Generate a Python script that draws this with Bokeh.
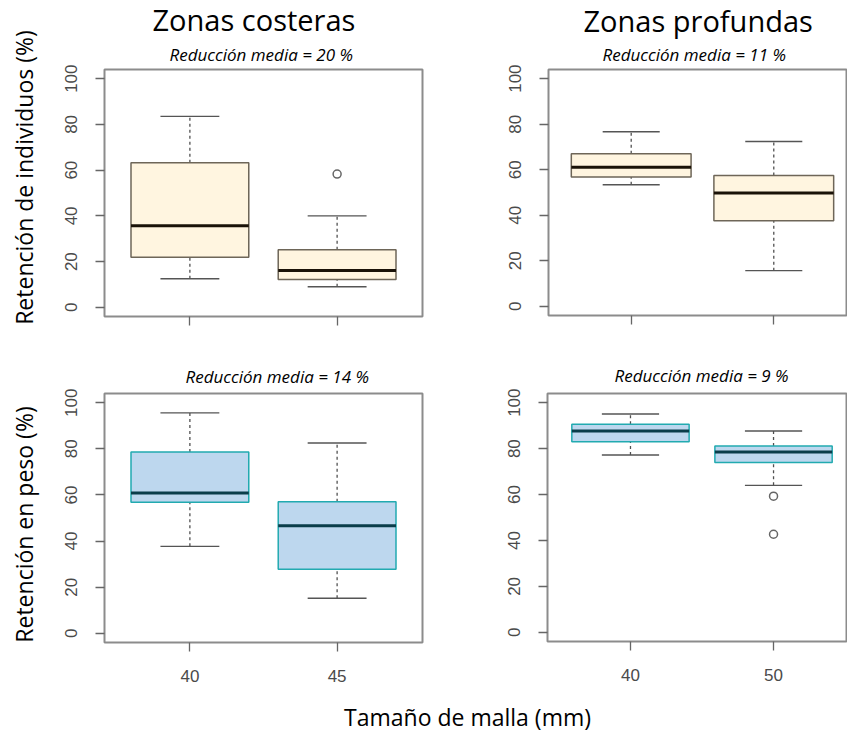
import math
from bokeh.plotting import figure
from bokeh.models import Range1d, FixedTicker, Title, ColumnDataSource
from bokeh.layouts import row, column
from bokeh.embed import file_html
from bokeh.resources import INLINE
from bokeh.core.properties import value

# ---------------- data ----------------
mesh_costeras = ["40", "45"]
mesh_profundas = ["40", "50"]

# each box: [whisker low, Q1, median, Q3, whisker high]
ind_costeras = [[12.5, 21.9, 35.7, 63.2, 83.5], [9.0, 12.2, 16.1, 25.2, 40.0]]
ind_costeras_out = [[], [58.3]]
ind_profundas = [[53.4, 56.8, 61.1, 67.0, 76.7], [15.7, 37.6, 49.8, 57.5, 72.4]]
ind_profundas_out = [[], []]
peso_costeras = [[37.7, 56.8, 60.8, 78.6, 95.6], [15.2, 27.8, 46.6, 57.1, 82.5]]
peso_costeras_out = [[], []]
peso_profundas = [[77.2, 83.0, 87.7, 90.6, 95.1], [64.0, 74.0, 78.5, 81.1, 87.7]]
peso_profundas_out = [[], [59.3, 42.7]]

reduccion = ["Reducción media = 20 %", "Reducción media = 11 %",
             "Reducción media = 14 %", "Reducción media = 9 %"]
zonas = ["Zonas costeras", "Zonas profundas"]
ylabels = ["Retención de individuos (%)", "Retención en peso (%)"]
xlabel = "Tamaño de malla (mm)"
yticks = [0, 20, 40, 60, 80, 100]

FONT = "Open Sans"
TICKFONT = "Liberation Sans"


def panel(stats, outs, labels, fill, edge, med_col, show_xlab, bl, fw, br, bt, fh, bb,
          x_end, bw, subtitle, sub_offset, sub_standoff, title=None, title_offset=0):
    p = figure(title=None, frame_width=fw, frame_height=fh,
               min_border_left=bl, min_border_right=br, min_border_top=bt, min_border_bottom=bb,
               x_range=Range1d(0.42, x_end), y_range=Range1d(-4, 104),
               toolbar_location=None, output_backend="svg")
    p.grid.visible = False
    p.outline_line_color = "#8c8c8c"
    p.outline_line_width = 2
    p.background_fill_color = "white"
    p.border_fill_color = "white"

    xs = [1, 2]
    src = ColumnDataSource(dict(
        x=xs,
        lo=[s[0] for s in stats], q1=[s[1] for s in stats], med=[s[2] for s in stats],
        q3=[s[3] for s in stats], hi=[s[4] for s in stats],
        xl=[x - bw / 2 for x in xs], xr=[x + bw / 2 for x in xs],
        cl=[x - 0.2 for x in xs], cr=[x + 0.2 for x in xs],
    ))
    # whiskers
    p.segment(x0="x", y0="q3", x1="x", y1="hi", source=src, line_color="#505050",
              line_width=1.3, line_dash="3 3")
    p.segment(x0="x", y0="lo", x1="x", y1="q1", source=src, line_color="#505050",
              line_width=1.3, line_dash="3 3")
    # caps
    p.segment(x0="cl", y0="hi", x1="cr", y1="hi", source=src, line_color="#555555", line_width=1.4)
    p.segment(x0="cl", y0="lo", x1="cr", y1="lo", source=src, line_color="#555555", line_width=1.4)
    # boxes
    p.vbar(x="x", width=bw, bottom="q1", top="q3", source=src, fill_color=fill,
           line_color=edge, line_width=1.5)
    # medians
    p.segment(x0="xl", y0="med", x1="xr", y1="med", source=src, line_color=med_col, line_width=3)
    # outliers
    ox, oy = [], []
    for x, o in zip(xs, outs):
        for v in o:
            ox.append(x)
            oy.append(v)
    if ox:
        p.scatter(ox, oy, marker="circle", size=8, fill_color=None, line_color="#666666",
                  line_width=1.5)

    # axes
    p.xaxis.ticker = FixedTicker(ticks=xs)
    if show_xlab:
        p.xaxis.major_label_overrides = {1: labels[0], 2: labels[1]}
    else:
        p.xaxis.major_label_overrides = {1: "", 2: ""}
    p.yaxis.ticker = FixedTicker(ticks=yticks)
    for ax in (p.xaxis[0], p.yaxis[0]):
        ax.axis_line_color = None
        ax.major_tick_line_color = "#666666"
        ax.major_tick_line_width = 1.3
        ax.major_tick_in = 0
        ax.major_tick_out = 9
        ax.minor_tick_line_color = None
        ax.major_label_text_font = TICKFONT
        ax.major_label_text_font_size = "17px"
        ax.major_label_text_color = "#4a4a4a"
    p.xaxis.major_label_standoff = 18
    p.yaxis.major_label_standoff = 18
    p.yaxis.major_label_orientation = "vertical"

    p.add_layout(Title(text=subtitle, text_font=FONT, text_font_size="17px",
                       text_font_style="italic", text_color="black", align="left",
                       offset=sub_offset, standoff=sub_standoff), "above")
    if title:
        p.add_layout(Title(text=title, text_font=FONT, text_font_size="29px",
                           text_font_style="normal", text_color="black", align="left",
                           offset=title_offset, standoff=-5), "above")
    return p


TOP_FILL, TOP_EDGE, TOP_MED = "#FFF5E0", "#6e6658", "#1a1208"
BOT_FILL, BOT_EDGE, BOT_MED = "#BDD7EE", "#22AAB0", "#0a3d4a"

p1 = panel(ind_costeras, ind_costeras_out, mesh_costeras, TOP_FILL, TOP_EDGE, TOP_MED, False,
           60, 318, 2, 69, 247, 24, 2.58, 0.8, reduccion[0], 65, 8, zonas[0], 48)
p2 = panel(ind_profundas, ind_profundas_out, mesh_profundas, TOP_FILL, TOP_EDGE, TOP_MED, False,
           124, 298, 1, 67, 246, 27, 2.51, 0.84, reduccion[1], 54, 7, zonas[1], 35)
p3 = panel(peso_costeras, peso_costeras_out, mesh_costeras, BOT_FILL, BOT_EDGE, BOT_MED, True,
           60, 318, 2, 52, 249, 47, 2.58, 0.8, reduccion[2], 81, 12)
p4 = panel(peso_profundas, peso_profundas_out, mesh_profundas, BOT_FILL, BOT_EDGE, BOT_MED, True,
           123, 299, 1, 50, 248, 50, 2.51, 0.82, reduccion[3], 67, 14)

# left strip with the y titles
ylab = figure(frame_width=44, frame_height=688, min_border=0, x_range=Range1d(0, 44),
              y_range=Range1d(0, 688), x_axis_location=None, y_axis_location=None,
              toolbar_location=None, output_backend="svg", title=None)
ylab.grid.visible = False
ylab.outline_line_color = None
ylab.text(x=[23, 23], y=[688 - 177, 688 - 524], text=ylabels, angle=math.pi / 2,
          text_align="center", text_baseline="middle", text_font=value(FONT),
          text_font_size="23px", text_color="black")

# bottom strip with the x title
xlab = figure(frame_width=847, frame_height=44, min_border=0, x_range=Range1d(0, 847),
              y_range=Range1d(0, 44), x_axis_location=None, y_axis_location=None,
              toolbar_location=None, output_backend="svg", title=None)
xlab.grid.visible = False
xlab.outline_line_color = None
xlab.text(x=[467], y=[44 - 27], text=[xlabel], text_align="center", text_baseline="middle",
          text_font=value(FONT), text_font_size="23px", text_color="black")

layout = column(row(ylab, column(row(p1, p2), row(p3, p4))), xlab)

open("out.html", "w").write(file_html(layout, INLINE))
